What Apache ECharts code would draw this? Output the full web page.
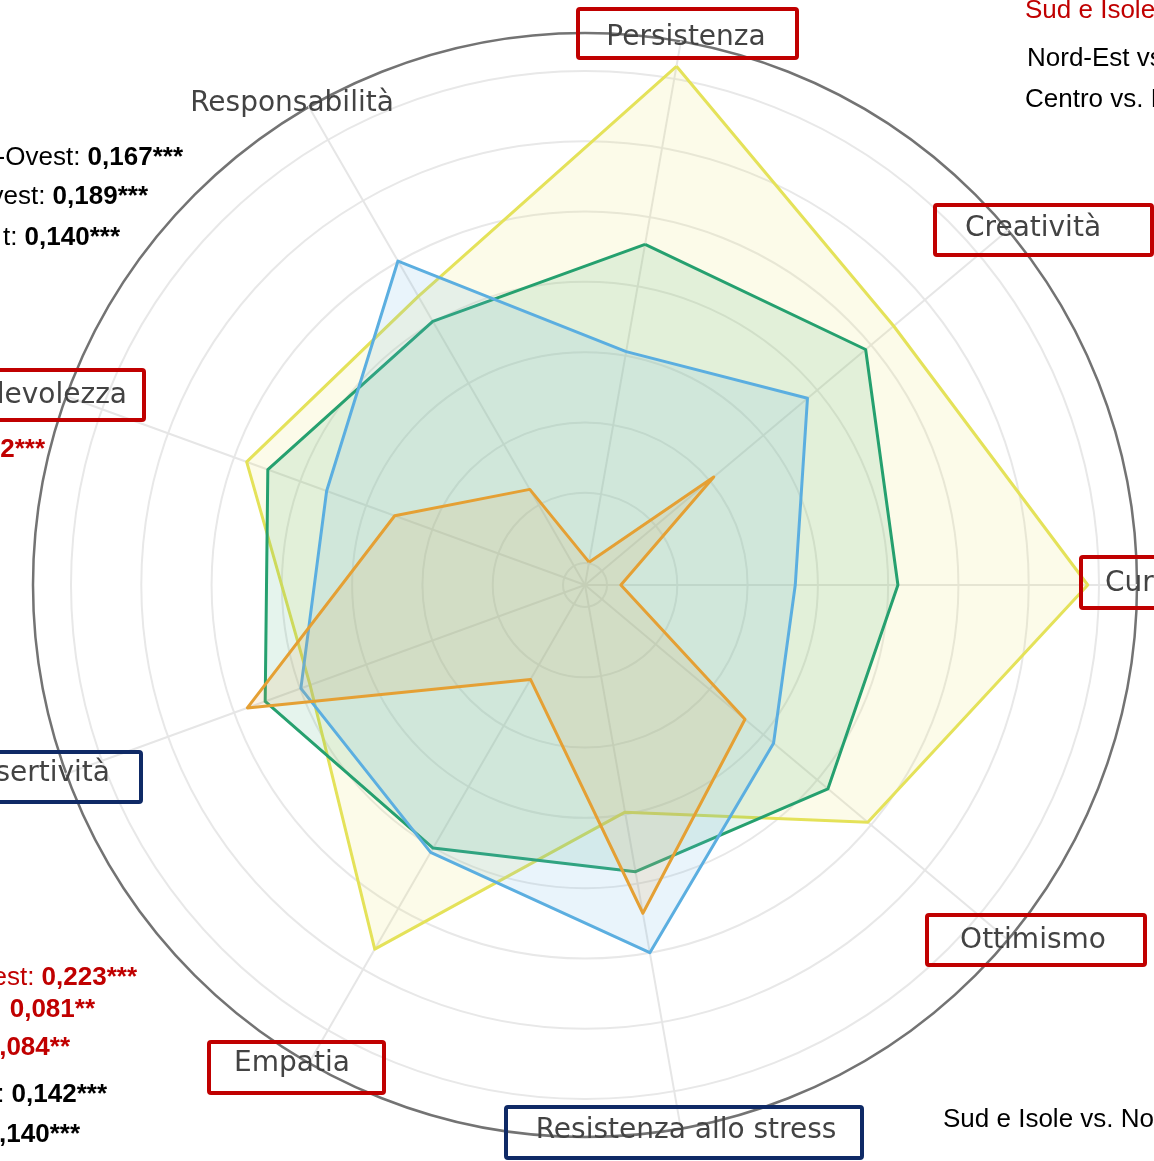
<!DOCTYPE html>
<html>
<head>
<meta charset="utf-8">
<script src="https://cdn.jsdelivr.net/npm/echarts@6/dist/echarts.min.js"></script>
<style>
html, body { margin: 0; padding: 0; background: #fff; }
#main { width: 1154px; height: 1161px; }
</style>
</head>
<body>
<div id="main"></div>
<script>
// indicators, counter-clockwise starting from the top (Persistenza)
var skills = ['Persistenza', 'Responsabilità', 'Gradevolezza', 'Assertività', 'Empatia',
              'Resistenza allo stress', 'Ottimismo', 'Curiosità', 'Creatività'];

// values, in grid steps
var giallo    = [7.18, 4.43, 4.81, 3.85, 5.67, 2.97, 4.94, 6.84, 5.42];
var verde     = [4.61, 4.02, 4.49, 4.53, 4.01, 3.83, 4.20, 4.14, 4.90];
var blu       = [3.06, 5.01, 3.60, 3.99, 4.08, 5.00, 3.19, 2.68, 3.82];
var arancione = [0.02, 1.26, 2.57, 4.80, 1.24, 4.43, 2.66, 0.20, 2.08];

var gridTicks = [0, 7];   // grid circles every step
var valueMin = -0.31, valueMax = 7.54;

var cx = 585, cy = 585;

var red = '#c00000', navy = '#0f2a66';
var labelFont = '28px "DejaVu Sans"';

function lab(text, x, y, align) {
	return {
		type: 'text', x: x, y: y, z: 50,
		style: { text: text, font: labelFont, fill: '#434343', align: align || 'center', verticalAlign: 'middle' }
	};
}
function box(x, y, w, h, color) {
	return {
		type: 'rect', z: 49,
		shape: { x: x, y: y, width: w, height: h, r: 2 },
		style: { fill: 'none', stroke: color, lineWidth: 4 }
	};
}
function note(text, x, y, align, color) {
	return {
		type: 'text', x: x, y: y, z: 50,
		style: {
			text: text, align: align, verticalAlign: 'middle',
			font: '26px "Liberation Sans"', fill: color,
			rich: {
				n: { font: '26px "Liberation Sans"', fill: color },
				b: { font: 'bold 26px "Liberation Sans"', fill: color }
			}
		}
	};
}

function serie(name, values, line, area) {
	return {
		name: name,
		value: values,
		symbol: 'none',
		lineStyle: { color: line, width: 3 },
		areaStyle: { color: area }
	};
}

var chart = echarts.init(document.getElementById('main'));
chart.setOption({
	animation: false,
	backgroundColor: '#fff',
	polar: { center: [cx, cy], radius: [22, 514] },
	angleAxis: { type: 'value', min: 0, max: 360, show: false },
	radiusAxis: {
		type: 'value', min: gridTicks[0], max: gridTicks[1], interval: 1,
		axisLine: { show: false }, axisTick: { show: false }, axisLabel: { show: false },
		splitLine: { show: true, lineStyle: { color: '#e8e8e8', width: 2 } }
	},
	radar: {
		center: [cx, cy],
		radius: 552,
		startAngle: 80,
		shape: 'circle',
		splitNumber: 1,
		indicator: skills.map(function (s) { return { name: s, min: valueMin, max: valueMax }; }),
		axisName: { show: false },
		axisLine: { lineStyle: { color: '#e6e6e6', width: 2 } },
		splitLine: { lineStyle: { color: '#737373', width: 2.5 } },
		splitArea: { show: false }
	},
	series: [{
		type: 'radar',
		z: 3,
		data: [
			serie('giallo', giallo, '#e4e258', 'rgba(238,230,110,0.22)'),
			serie('verde', verde, '#25a06f', 'rgba(45,170,110,0.18)'),
			serie('blu', blu, '#5aaee0', 'rgba(110,185,230,0.22)'),
			serie('arancione', arancione, '#e5a033', 'rgba(225,165,70,0.2)')
		]
	}],
	graphic: [
		box(578, 9, 219, 49, red),
		box(935, 205, 217, 50, red),
		box(1081, 557, 120, 51, red),
		box(927, 915, 218, 50, red),
		box(506, 1107, 356, 51, navy),
		box(209, 1042, 175, 51, red),
		box(-10, 752, 151, 50, navy),
		box(-10, 370, 154, 50, red),

		lab('Persistenza', 686, 38),
		lab('Responsabilità', 292, 104),
		lab('Creatività', 1033, 229),
		lab('Curiosità', 1105, 584, 'left'),
		lab('Ottimismo', 1033, 941),
		lab('Resistenza allo stress', 686, 1131),
		lab('Empatia', 292, 1064),
		lab('Assertività', 110, 774, 'right'),
		lab('Gradevolezza', 127, 396, 'right'),

		note('Sud e Isole vs. Nord-Ovest', 1025, 11, 'left', red),
		note('Nord-Est vs. Nord-Ovest', 1027, 59, 'left', '#000'),
		note('Centro vs. Nord-Ovest', 1025, 100, 'left', '#000'),
		note('{n|-Ovest: }{b|0,167***}', 183, 158, 'right', '#000'),
		note('{n|vest: }{b|0,189***}', 148, 197, 'right', '#000'),
		note('{n|t: }{b|0,140***}', 120, 238, 'right', '#000'),
		note('{b|2***}', 45, 450, 'right', red),
		note('{n|est: }{b|0,223***}', 137, 978, 'right', red),
		note('{b|0,081**}', 95, 1010, 'right', red),
		note('{b|,084**}', 70, 1048, 'right', red),
		note('{n|: }{b|0,142***}', 107, 1095, 'right', '#000'),
		note('{b|,140***}', 80, 1135, 'right', '#000'),
		note('Sud e Isole vs. Nord-Ovest', 943, 1120, 'left', '#000')
	]
});
</script>
</body>
</html>
